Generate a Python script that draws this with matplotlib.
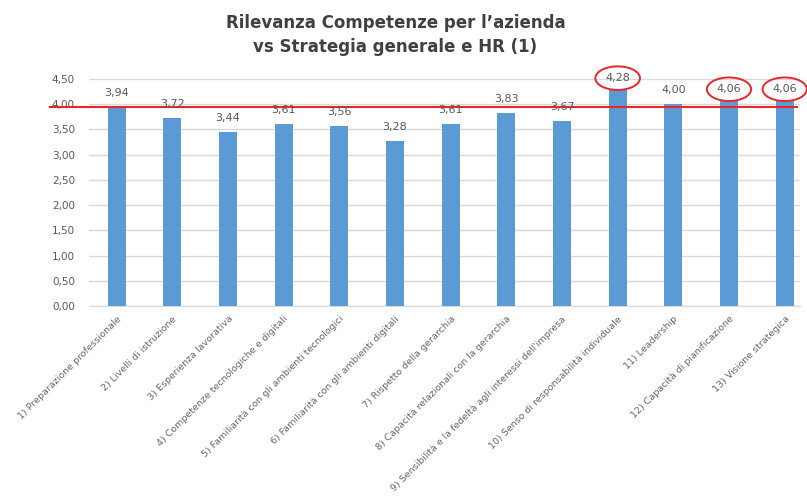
import matplotlib
matplotlib.use("Agg")
import matplotlib.pyplot as plt
from matplotlib.ticker import FuncFormatter

categories = [
    "1) Preparazione professionale",
    "2) Livelli di istruzione",
    "3) Esperienza lavorativa",
    "4) Competenze tecnologiche e digitali",
    "5) Familiarità con gli ambienti tecnologici",
    "6) Familiarità con gli ambienti digitali",
    "7) Rispetto della gerarchia",
    "8) Capacità relazionali con la gerarchia",
    "9) Sensibilità e la fedeltà agli interessi dell'impresa",
    "10) Senso di responsabilità individuale",
    "11) Leadership",
    "12) Capacità di pianificazione",
    "13) Visione strategica",
]
values = [3.94, 3.72, 3.44, 3.61, 3.56, 3.28, 3.61, 3.83, 3.67, 4.28, 4.00, 4.06, 4.06]
highlighted = [9, 11, 12]
threshold = 3.94
yticks = [0, 0.5, 1.0, 1.5, 2.0, 2.5, 3.0, 3.5, 4.0, 4.5]

fig = plt.figure(figsize=(8.07, 5.0), dpi=100)
ax = fig.add_axes([0.110, 0.388, 0.881, 0.454])

x = list(range(len(values)))
ax.bar(x, values, width=0.32, color="#5B9BD5", zorder=2)

gray = "#595959"
for i, v in enumerate(values):
    txt = f"{v:.2f}".replace(".", ",")
    if i in highlighted:
        ax.annotate(txt, (i, v), xytext=(0, 5), textcoords="offset points",
                    ha="center", va="bottom", fontsize=8, color=gray,
                    bbox=dict(boxstyle="ellipse,pad=0.3", fc="none", ec="#E8262A", lw=1.4),
                    zorder=5)
    else:
        ax.annotate(txt, (i, v), xytext=(0, 6.5), textcoords="offset points",
                    ha="center", va="bottom", fontsize=8, color=gray, zorder=5)

ax.set_xlim(-0.5, 12.27)
ax.set_ylim(0, 4.5)
ax.set_yticks(yticks)
ax.yaxis.set_major_formatter(FuncFormatter(lambda v, p: f"{v:.2f}".replace(".", ",")))
ax.tick_params(axis="y", length=0, labelsize=7.5, labelcolor=gray, pad=10)
ax.tick_params(axis="x", length=0, labelsize=6.8, labelcolor="#666666", pad=6)
ax.set_xticks(x)
ax.set_xticklabels(categories, rotation=45, ha="right", rotation_mode="anchor")

ax.grid(axis="y", color="#D9D9D9", lw=1, zorder=0)
for s in ["top", "right", "left"]:
    ax.spines[s].set_visible(False)
ax.spines["bottom"].set_color("#D9D9D9")

ax.axhline(threshold, xmin=-0.055, xmax=0.996, color="#E8262A", lw=1.5, clip_on=False, zorder=4)

fig.text(0.49, 0.955, "Rilevanza Competenze per l’azienda", ha="center", va="center",
         fontsize=12, fontweight="bold", color="#404040")
fig.text(0.49, 0.905, "vs Strategia generale e HR (1)", ha="center", va="center",
         fontsize=12, fontweight="bold", color="#404040")

fig.savefig("out.png", dpi=100)
